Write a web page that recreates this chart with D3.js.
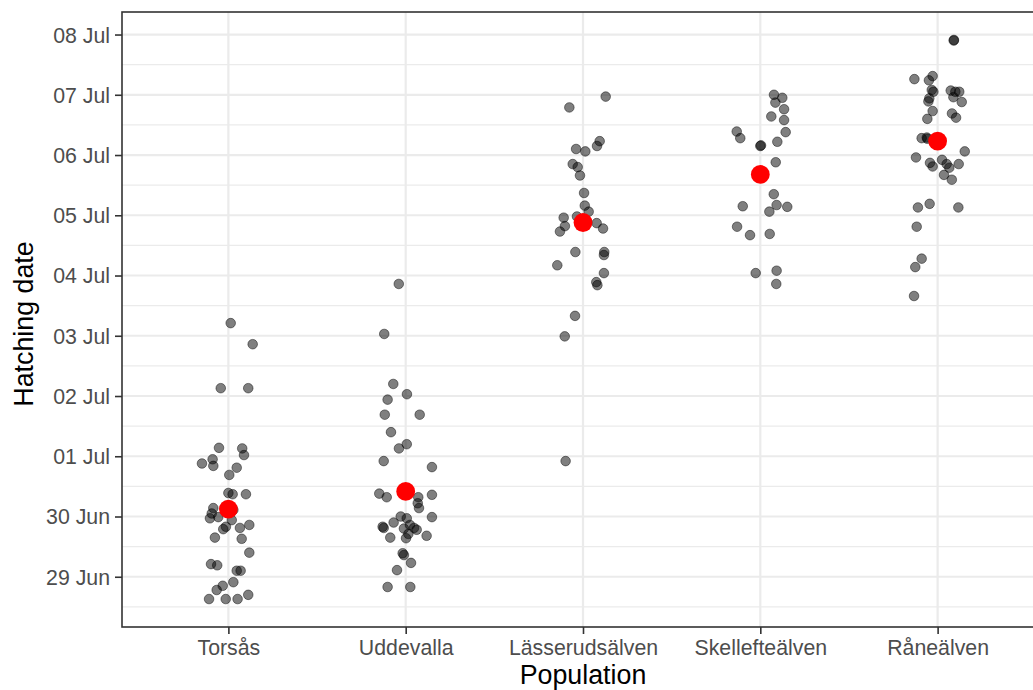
<!DOCTYPE html>
<html>
<head>
<meta charset="utf-8">
<script src="https://cdn.jsdelivr.net/npm/d3@7"></script>
<style>
  html, body { margin: 0; padding: 0; background: #fff; }
  svg { display: block; font-family: "Liberation Sans", Arial, Helvetica, sans-serif; }
</style>
</head>
<body>
<svg id="chart" width="1033" height="690"></svg>
<script>
// Populations along the x axis
const populations = ["Torsås", "Uddevalla", "Lässerudsälven", "Skellefteälven", "Råneälven"];

// Hatching dates as fractional day of year (180 = 29 Jun 00:00)
const torsasDay = [184.21, 183.86, 183.13, 183.13, 182.14, 182.13, 182.02, 181.95, 181.88, 181.84,
  181.81, 181.69, 181.39, 181.37, 181.37, 181.14, 181.05, 180.97, 180.99, 181.11,
  180.94, 180.83, 180.79, 180.81, 180.86, 180.65, 180.63, 180.40, 180.21, 180.19,
  180.10, 180.10, 179.91, 179.85, 179.78, 179.63, 179.63, 179.63, 179.70];
const uddevallaDay = [184.86, 184.03, 183.20, 183.03, 182.94, 182.69, 182.69, 182.40, 182.20, 182.13,
  181.92, 181.82, 181.38, 181.32, 181.32, 181.36, 181.22, 181.14, 180.99, 181.00,
  180.97, 180.90, 180.83, 180.81, 180.80, 180.86, 180.81, 180.78, 180.71, 180.68,
  180.65, 180.64, 180.39, 180.36, 180.23, 180.11, 179.83, 179.83];
const lasserudDay = [187.97, 187.79, 187.23, 187.15, 187.10, 187.06, 186.85, 186.80, 186.66, 186.37,
  186.16, 186.06, 185.96, 185.98, 185.82, 185.73, 185.87, 185.78, 185.39, 185.39,
  185.34, 185.17, 185.04, 184.89, 184.84, 184.33, 183.99, 181.92];
const skellefteDay = [188.00, 187.95, 187.87, 187.76, 187.64, 187.58, 187.39, 187.28, 187.38, 187.22,
  187.15, 187.16, 186.88, 186.35, 186.15, 186.17, 186.14, 186.06, 185.81, 185.67,
  185.69, 185.04, 185.08, 184.86];
const raneDay = [188.90, 188.91, 188.26, 188.24, 188.31, 188.08, 188.05, 188.07, 188.05, 188.05,
  187.96, 187.94, 187.89, 187.88, 187.73, 187.69, 187.62, 187.60, 187.28, 187.29,
  187.27, 186.96, 187.06, 186.87, 186.81, 186.92, 186.85, 186.79, 186.85, 186.67,
  186.59, 186.13, 186.19, 186.13, 185.81, 185.28, 185.14, 184.66];

// Horizontal jitter of each observation, in category steps
const torsasJitter = [0.013, 0.137, -0.043, 0.112, -0.053, 0.078, 0.088, -0.089, -0.149, -0.085,
  0.047, 0.005, 0.000, 0.024, 0.099, -0.085, -0.094, -0.104, -0.057, 0.028,
  0.019, -0.014, -0.029, 0.065, 0.118, -0.076, 0.075, 0.118, -0.098, -0.063,
  0.047, 0.069, 0.028, -0.032, -0.066, -0.109, -0.015, 0.052, 0.112];
const uddevallaJitter = [-0.039, -0.121, -0.070, 0.007, -0.102, -0.118, 0.079, -0.083, 0.006, -0.038,
  -0.124, 0.148, -0.149, -0.107, 0.071, 0.148, 0.068, 0.075, 0.148, -0.028,
  0.006, -0.068, -0.130, -0.124, -0.010, 0.024, 0.047, 0.062, 0.015, 0.118,
  -0.087, 0.002, -0.017, -0.010, 0.030, -0.049, -0.102, 0.026];
const lasserudJitter = [0.128, -0.077, 0.094, 0.079, -0.039, 0.013, -0.058, -0.030, -0.017, 0.006,
  0.010, 0.032, -0.109, -0.034, -0.102, -0.130, 0.077, 0.113, -0.043, 0.120,
  0.118, -0.145, 0.118, 0.075, 0.081, -0.045, -0.103, -0.098];
const skellefteJitter = [0.077, 0.124, 0.085, 0.134, 0.062, 0.134, -0.133, -0.113, 0.143, 0.096,
  0.000, 0.004, 0.087, 0.076, -0.099, 0.092, 0.152, 0.051, -0.131, -0.058,
  0.053, -0.026, 0.092, 0.090];
const raneJitter = [0.091, 0.092, -0.131, -0.049, -0.028, -0.033, -0.024, 0.074, 0.100, 0.122,
  0.089, -0.047, -0.052, 0.136, -0.028, 0.081, 0.104, -0.058, -0.090, -0.061,
  -0.058, -0.122, 0.153, -0.043, -0.028, 0.025, 0.051, 0.066, 0.119, 0.036,
  0.080, -0.111, -0.045, 0.117, -0.118, -0.090, -0.126, -0.133];

const dayValues = [torsasDay, uddevallaDay, lasserudDay, skellefteDay, raneDay];
const jitterValues = [torsasJitter, uddevallaJitter, lasserudJitter, skellefteJitter, raneJitter];

// Day-of-year -> Date (UTC)
const YEAR = 2019;
const DAY_MS = 86400000;
const toDate = doy => new Date(Date.UTC(YEAR, 0, 1) + (doy - 1) * DAY_MS);

const observations = [];
populations.forEach((pop, i) => {
  dayValues[i].forEach((d, j) => {
    observations.push({ pop, doy: d, jitter: jitterValues[i][j] });
  });
});
const means = populations.map((pop, i) => ({ pop, doy: d3.mean(dayValues[i]) }));

// Layout
const panel = { left: 122, right: 1044, top: 12, bottom: 627 };

const svg = d3.select("#chart");

// Scales
const x = d3.scalePoint()
  .domain(populations)
  .range([panel.left, panel.right])
  .padding(0.6);

const ext = d3.extent(observations, d => d.doy);
const pad = (ext[1] - ext[0]) * 0.05;
const y = d3.scaleUtc()
  .domain([toDate(ext[0] - pad), toDate(ext[1] + pad)])
  .range([panel.bottom, panel.top]);

// Grid lines
const dayTicks = d3.utcDay.range(d3.utcDay.ceil(y.domain()[0]), y.domain()[1]);
const halfTicks = d3.utcHour.every(12).range(y.domain()[0], y.domain()[1])
  .filter(t => t.getUTCHours() === 12);

const grid = svg.append("g");
grid.selectAll("line.minor")
  .data(halfTicks)
  .join("line")
  .attr("class", "minor")
  .attr("x1", panel.left).attr("x2", panel.right)
  .attr("y1", d => y(d)).attr("y2", d => y(d))
  .attr("stroke", "#ebebeb").attr("stroke-width", 1.2);
grid.selectAll("line.major")
  .data(dayTicks)
  .join("line")
  .attr("class", "major")
  .attr("x1", panel.left).attr("x2", panel.right)
  .attr("y1", d => y(d)).attr("y2", d => y(d))
  .attr("stroke", "#ebebeb").attr("stroke-width", 2.2);
grid.selectAll("line.vmajor")
  .data(populations)
  .join("line")
  .attr("class", "vmajor")
  .attr("x1", d => x(d)).attr("x2", d => x(d))
  .attr("y1", panel.top).attr("y2", panel.bottom)
  .attr("stroke", "#ebebeb").attr("stroke-width", 2.2);

// Observations
svg.append("g")
  .selectAll("circle")
  .data(observations)
  .join("circle")
  .attr("cx", d => x(d.pop) + d.jitter * x.step())
  .attr("cy", d => y(toDate(d.doy)))
  .attr("r", 4.8)
  .attr("fill", "#000")
  .attr("fill-opacity", 0.5)
  .attr("stroke", "#000")
  .attr("stroke-opacity", 0.5)
  .attr("stroke-width", 0.9);

// Population means
svg.append("g")
  .selectAll("circle")
  .data(means)
  .join("circle")
  .attr("cx", d => x(d.pop))
  .attr("cy", d => y(toDate(d.doy)))
  .attr("r", 9.4)
  .attr("fill", "#ff0000");

// Panel border
svg.append("rect")
  .attr("x", panel.left).attr("y", panel.top)
  .attr("width", panel.right - panel.left)
  .attr("height", panel.bottom - panel.top)
  .attr("fill", "none")
  .attr("stroke", "#333333")
  .attr("stroke-width", 1.6);

// Axes
const fmt = d3.utcFormat("%d %b");
const yAxis = svg.append("g")
  .attr("transform", `translate(${panel.left},0)`)
  .call(d3.axisLeft(y).tickValues(dayTicks).tickFormat(fmt).tickSize(7).tickPadding(5));
const xAxis = svg.append("g")
  .attr("transform", `translate(0,${panel.bottom})`)
  .call(d3.axisBottom(x).tickSize(7).tickPadding(5));

[yAxis, xAxis].forEach(a => {
  a.select(".domain").remove();
  a.selectAll(".tick line").attr("stroke", "#333333").attr("stroke-width", 1.6);
  a.selectAll(".tick text")
    .attr("fill", "#4d4d4d")
    .attr("font-size", 21.3)
    .attr("font-family", "'Liberation Sans', Arial, Helvetica, sans-serif");
});
yAxis.selectAll(".tick text").attr("dy", "0.35em");
xAxis.selectAll(".tick text").attr("dy", "0.75em");

// Axis titles
svg.append("text")
  .attr("x", (panel.left + panel.right) / 2)
  .attr("y", 684)
  .attr("text-anchor", "middle")
  .attr("font-size", 26.8)
  .attr("fill", "#000")
  .text("Population");

svg.append("text")
  .attr("transform", `translate(33,324) rotate(-90)`)
  .attr("text-anchor", "middle")
  .attr("font-size", 26.8)
  .attr("fill", "#000")
  .text("Hatching date");
</script>
</body>
</html>
